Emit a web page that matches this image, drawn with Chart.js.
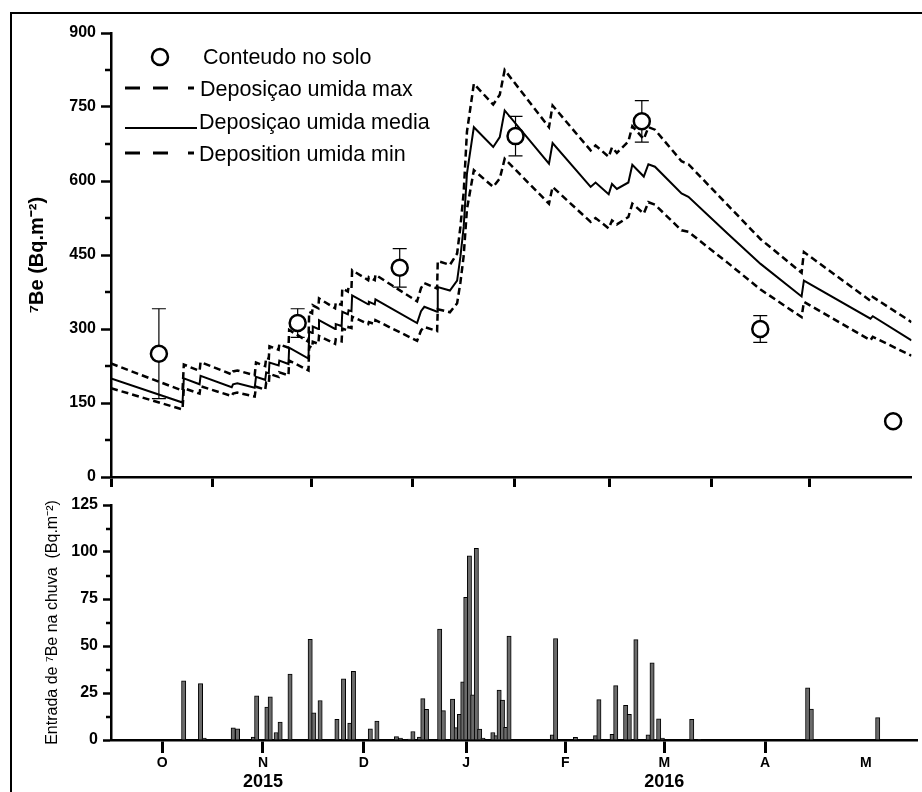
<!DOCTYPE html>
<html>
<head>
<meta charset="utf-8">
<script src="https://cdn.jsdelivr.net/npm/chart.js@4.4.1/dist/chart.umd.min.js"></script>
<style>
  html, body { margin: 0; padding: 0; background: #fff; }
  body { width: 922px; height: 792px; position: relative; overflow: hidden; }
  #frame { position: absolute; left: 10px; top: 12px; width: 940px; height: 820px;
           border-left: 2px solid #000; border-top: 2px solid #000; }
  .box { position: absolute; left: 0; }
</style>
</head>
<body>
<div id="frame"></div>
<div class="box" style="top:0"><canvas id="be-chart" width="922" height="500"></canvas></div>
<div class="box" style="top:490px"><canvas id="rain-chart" width="922" height="302"></canvas></div>
<script>
// days counted from 1 Oct 2015
const monthStart = [0, 31, 61, 92, 123, 152, 183, 213];
const monthMid = [15.5, 46, 76.5, 107.5, 137.5, 167.5, 198, 228.5];
const monthLetters = ['O', 'N', 'D', 'J', 'F', 'M', 'A', 'M'];
const yearLabels = ['', '2015', '', '', '', '2016', '', ''];

const legendLabels = ['Conteudo no solo', 'Deposiçao umida max', 'Deposiçao umida media', 'Deposition umida min'];

// soil inventory (circles with error bars)
const soilDay = [14.6, 56.9, 88, 123.3, 161.8, 197.9, 238.4];
const soilValue = [250, 312, 424, 691, 721, 300, 113];
const soilError = [91, 29, 39, 40, 42, 27, 0];

// modelled wet deposition curves
const modelDay = [0, 21.8, 22.2, 27.0, 27.3, 36.8, 37.2, 38.5, 43.8, 44.2, 47.0, 47.3, 48.1, 48.3, 51.1, 51.3, 54.1, 54.3,
  60.2, 60.4, 61.3, 61.5, 63.2, 63.4, 68.3, 68.5, 70.3, 70.5, 72.2, 72.4, 73.3, 73.5, 78.4, 78.6, 80.4, 80.6,
  93.3, 94.5, 95.5, 99.4, 99.6, 103.3, 105.5, 106.5, 107.5, 108.5, 110.6, 116.5, 118.5, 120.0, 133.5, 134.6,
  146.2, 147.7, 151.7, 152.7, 154.2, 157.7, 158.9, 162.4, 163.8, 165.8, 173.9, 176.0, 188, 198, 210.5, 211.2,
  231.5, 232.2, 244];
const depMax = [230, 175, 228, 215, 233, 208, 214, 216, 206, 232, 225, 242, 240, 265, 258, 269, 262, 298,
  274, 335, 332, 348, 342, 362, 342, 353, 349, 382, 376, 385, 383, 419, 399, 405, 399, 410,
  356, 383, 393, 382, 438, 430, 453, 507, 577, 700, 797, 755, 775, 825, 709, 753,
  662, 672, 649, 668, 657, 680, 711, 685, 709, 704, 640, 634, 551, 482, 414, 456,
  357, 365, 314];
const depMean = [200, 151, 200, 188, 205, 182, 188, 190, 181, 203, 197, 212, 210, 232, 226, 236, 229, 262,
  240, 295, 292, 305, 300, 318, 300, 310, 306, 335, 330, 338, 336, 368, 350, 355, 350, 360,
  312, 336, 345, 335, 385, 378, 398, 446, 507, 615, 709, 669, 689, 743, 635, 677,
  588, 597, 573, 594, 584, 597, 633, 609, 634, 629, 575, 568, 493, 432, 366, 398,
  321, 326, 277];
const depMin = [180, 137, 180, 169, 184, 164, 169, 171, 163, 183, 177, 191, 189, 209, 203, 212, 206, 236,
  216, 265, 262, 274, 270, 286, 270, 279, 275, 301, 297, 304, 302, 325, 310, 314, 310, 318,
  276, 297, 304, 296, 340, 334, 352, 394, 448, 543, 622, 588, 605, 645, 554, 588,
  517, 525, 504, 520, 512, 527, 554, 534, 557, 552, 500, 497, 434, 380, 324, 355,
  277, 284, 246];

// 7Be input by rain
const rainDay = [22.0, 27.1, 28.2, 37.0, 38.3, 43.1, 44.1, 47.2, 48.2, 50.0, 51.2, 54.2, 60.3, 61.4, 63.3, 68.4,
  70.4, 72.3, 73.4, 78.5, 80.5, 86.4, 87.6, 90.4, 91.4, 93.4, 94.4, 95.5, 99.5, 100.6, 103.4, 104.5, 105.5,
  106.5, 107.4, 108.5, 109.5, 110.6, 111.6, 112.6, 115.6, 116.6, 117.5, 118.5, 119.5, 120.5, 133.6, 134.6,
  140.6, 146.7, 147.7, 151.7, 152.8, 155.8, 156.9, 158.9, 162.6, 163.8, 165.8, 166.9, 175.8, 178.1,
  210.9, 212.0, 232.1];
const rainValue = [31.5, 30, 1, 6.5, 6, 1.5, 23.5, 17.5, 23, 4, 9.5, 35, 53.5, 14.5, 21, 11,
  32.5, 9, 36.5, 6, 10, 1.8, 1, 0.5, 4.5, 1.5, 22, 16.3, 59, 15.6, 21.8, 6.6, 13.7,
  31, 75.9, 98, 24, 102, 5.8, 1, 4, 2.3, 26.6, 21.3, 6.7, 55.3, 2.7, 54,
  1.4, 2.3, 21.5, 3, 28.9, 18.4, 13.6, 53.4, 2.7, 41, 11.3, 1, 11, 0.3,
  27.8, 16.5, 11.9];

const FONT = '"Liberation Sans", Arial, sans-serif';
Chart.defaults.font.family = FONT;
Chart.defaults.color = '#000';

function xy(days, vals) {
  return days.map((d, i) => ({ x: d, y: vals[i] }));
}

// short minor ticks on the y axis
function minorTicks(step, len) {
  return {
    id: 'minorTicks',
    afterDraw(chart) {
      const s = chart.scales.y;
      const ctx = chart.ctx;
      ctx.save();
      ctx.strokeStyle = '#000';
      ctx.lineWidth = 2.5;
      for (let v = s.min + step; v < s.max; v += step * 2) {
        const y = Math.round(s.getPixelForValue(v));
        ctx.beginPath();
        ctx.moveTo(s.right - len, y);
        ctx.lineTo(s.right, y);
        ctx.stroke();
      }
      ctx.restore();
    }
  };
}

const insideLegend = {
  id: 'insideLegend',
  afterDraw(chart) {
    const ctx = chart.ctx;
    ctx.save();
    ctx.fillStyle = '#000';
    ctx.strokeStyle = '#000';
    ctx.font = '21.5px ' + FONT;
    ctx.textBaseline = 'middle';
    // circle
    ctx.lineWidth = 2.5;
    ctx.beginPath();
    ctx.arc(160, 57, 8, 0, Math.PI * 2);
    ctx.stroke();
    ctx.fillText(legendLabels[0], 203, 58);
    // dashed samples
    ctx.lineWidth = 3;
    [[88, 1], [153, 3]].forEach(([y, k]) => {
      [[125, 140], [153, 168], [188, 194]].forEach(([a, b]) => {
        ctx.beginPath(); ctx.moveTo(a, y); ctx.lineTo(b, y); ctx.stroke();
      });
      ctx.fillText(legendLabels[k], k === 1 ? 200 : 199, y + 2);
    });
    // solid sample
    ctx.lineWidth = 2;
    ctx.beginPath(); ctx.moveTo(125, 128); ctx.lineTo(197, 128); ctx.stroke();
    ctx.fillText(legendLabels[2], 199, 123);
    ctx.restore();
  }
};

const errorBars = [];
soilDay.forEach((d, i) => {
  if (soilError[i] > 0) {
    errorBars.push({ x: d, y: soilValue[i] - soilError[i] }, { x: d, y: soilValue[i] + soilError[i] }, { x: d, y: null });
  }
});

new Chart(document.getElementById('be-chart'), {
  type: 'line',
  data: {
    datasets: [
      {
        label: legendLabels[0],
        data: xy(soilDay, soilValue),
        showLine: false,
        pointStyle: 'circle',
        pointRadius: 8,
        pointBorderWidth: 2.5,
        pointBackgroundColor: '#fff',
        pointBorderColor: '#000',
        order: 0
      },
      {
        label: 'error',
        data: errorBars,
        borderColor: '#000',
        borderWidth: 1.2,
        spanGaps: false,
        pointStyle: 'line',
        pointRadius: 7,
        pointBorderWidth: 1.2,
        pointBorderColor: '#000',
        order: 1
      },
      {
        label: legendLabels[1],
        data: xy(modelDay, depMax),
        borderColor: '#000',
        borderWidth: 2.5,
        borderDash: [7, 4],
        pointRadius: 0,
        tension: 0,
        order: 2
      },
      {
        label: legendLabels[2],
        data: xy(modelDay, depMean),
        borderColor: '#000',
        borderWidth: 2,
        pointRadius: 0,
        tension: 0,
        order: 2
      },
      {
        label: legendLabels[3],
        data: xy(modelDay, depMin),
        borderColor: '#000',
        borderWidth: 2.5,
        borderDash: [7, 4],
        pointRadius: 0,
        tension: 0,
        order: 2
      }
    ]
  },
  options: {
    responsive: false,
    animation: false,
    events: [],
    layout: { padding: { top: 33, right: 2, left: 0, bottom: 0 } },
    plugins: { legend: { display: false }, tooltip: { enabled: false } },
    scales: {
      x: {
        type: 'linear',
        min: 0,
        max: 244,
        afterBuildTicks: s => { s.ticks = monthStart.map(v => ({ value: v })); },
        afterFit: s => { s.height = 23; },
        ticks: { display: false },
        grid: { drawOnChartArea: false, tickLength: 10, tickWidth: 3, tickColor: '#000' },
        border: { color: '#000', width: 2.5 }
      },
      y: {
        min: 0,
        max: 900,
        afterBuildTicks: s => { s.ticks = [0, 150, 300, 450, 600, 750, 900].map(v => ({ value: v })); },
        afterFit: s => { s.width = 111; },
        ticks: { font: { size: 16, weight: 'bold' }, padding: 5 },
        grid: { drawOnChartArea: false, tickLength: 10, tickWidth: 2.5, tickColor: '#000' },
        border: { color: '#000', width: 2.5 },
        title: {
          display: true,
          text: '⁷Be (Bq.m⁻²)',
          font: { size: 20, weight: 'bold' },
          padding: { top: 25, bottom: 0 }
        }
      }
    }
  },
  plugins: [minorTicks(75, 6), insideLegend]
});

const yearPlugin = {
  id: 'years',
  afterDraw(chart) {
    const s = chart.scales.x;
    const ctx = chart.ctx;
    ctx.save();
    ctx.font = 'bold 18px ' + FONT;
    ctx.fillStyle = '#000';
    ctx.textAlign = 'center';
    ctx.textBaseline = 'middle';
    yearLabels.forEach((t, i) => {
      if (t) ctx.fillText(t, s.getPixelForValue(monthMid[i]), 292);
    });
    ctx.restore();
  }
};

new Chart(document.getElementById('rain-chart'), {
  type: 'bar',
  data: {
    datasets: [{
      label: 'Entrada de ⁷Be na chuva',
      data: xy(rainDay, rainValue),
      backgroundColor: '#6b6b6b',
      borderColor: '#000',
      borderWidth: 1,
      barThickness: 4.3,
      grouped: false
    }]
  },
  options: {
    responsive: false,
    animation: false,
    events: [],
    layout: { padding: { top: 15, right: 5, left: 0, bottom: 0 } },
    plugins: { legend: { display: false }, tooltip: { enabled: false } },
    scales: {
      x: {
        type: 'linear',
        min: 0,
        max: 244,
        offset: false,
        afterBuildTicks: s => {
          s.ticks = monthStart.map(v => ({ value: v })).concat(monthMid.map(v => ({ value: v })));
        },
        afterFit: s => { s.height = 52; },
        ticks: {
          autoSkip: false,
          maxRotation: 0,
          padding: 2,
          font: { size: 14, weight: 'bold' },
          callback: v => {
            const i = monthMid.indexOf(v);
            return i >= 0 ? monthLetters[i] : '';
          }
        },
        grid: {
          drawOnChartArea: false,
          tickLength: 13,
          tickWidth: 3,
          tickColor: c => (c.tick && monthStart.includes(c.tick.value)) ? '#000' : 'rgba(0,0,0,0)'
        },
        border: { color: '#000', width: 2.5 }
      },
      y: {
        min: 0,
        max: 125,
        afterBuildTicks: s => { s.ticks = [0, 25, 50, 75, 100, 125].map(v => ({ value: v })); },
        afterFit: s => { s.width = 111; },
        ticks: { font: { size: 16, weight: 'bold' }, padding: 5 },
        grid: { drawOnChartArea: false, tickLength: 8, tickWidth: 2.5, tickColor: '#000' },
        border: { color: '#000', width: 2.5 },
        title: {
          display: true,
          text: 'Entrada de ⁷Be na chuva  (Bq.m⁻²)',
          font: { size: 16 },
          padding: { top: 43, bottom: 0 }
        }
      }
    }
  },
  plugins: [minorTicks(12.5, 5), yearPlugin]
});
</script>
</body>
</html>
